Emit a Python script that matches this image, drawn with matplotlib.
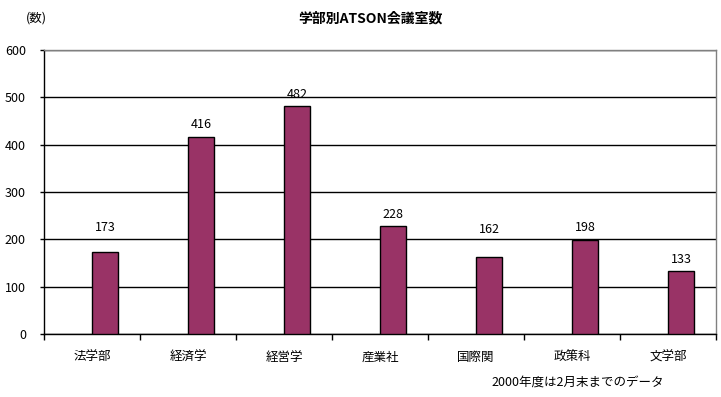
import matplotlib
matplotlib.use("Agg")
import matplotlib.pyplot as plt
import numpy as np

plt.rcParams['font.family'] = ['Noto Sans CJK JP', 'DejaVu Sans']

categories = ["法学部", "経済学", "経営学", "産業社", "国際関", "政策科", "文学部"]
values = [173, 416, 482, 228, 162, 198, 133]
# data-label positions (value units) as placed in the reference
label_pos = [224, 443, 507, 253, 220, 224, 157]
yticks = [0, 100, 200, 300, 400, 500, 600]

title = "学部別ATSON会議室数"
ylabel = "(数)"
note = "2000年度は2月末までのデータ"

fig = plt.figure(figsize=(7.21, 3.97), dpi=100)
ax = fig.add_axes([44/721, 1 - 334/397, (716-44)/721, (334-50)/397])

x = np.arange(len(categories))
ax.bar(x, values, width=0.27, align='edge', color='#993366',
       edgecolor='black', linewidth=1.0, zorder=3)
for xi, v, ly in zip(x, values, label_pos):
    ax.text(xi + 0.135, ly, str(v), ha='center', va='center',
            fontsize=9, color='black', zorder=4)

ax.set_xlim(-0.5, len(categories) - 0.5)
ax.set_ylim(0, 600)
ax.set_yticks(yticks)
ax.set_yticklabels([str(t) for t in yticks], fontsize=9)
ax.yaxis.grid(True, color='black', linewidth=1.0, zorder=0)
ax.set_axisbelow(True)

# category boundary ticks
ax.set_xticks(np.arange(-0.5, len(categories) + 0.5, 1.0))
ax.set_xticklabels([])
ax.tick_params(axis='x', direction='out', length=4, width=1, color='black')
ax.tick_params(axis='y', direction='out', length=3, width=1, pad=10)
for xi, c in zip(x, categories):
    ax.text(xi, -23/284, c, transform=ax.get_xaxis_transform(),
            ha='center', va='center', fontsize=9)

for s in ['top', 'right']:
    ax.spines[s].set_color('#808080')
    ax.spines[s].set_linewidth(1.0)
for s in ['left', 'bottom']:
    ax.spines[s].set_color('black')
    ax.spines[s].set_linewidth(1.0)

fig.text(370/721, 1 - 18/397, title, ha='center', va='center',
         fontsize=10, fontweight='bold')
fig.text(36/721, 1 - 18/397, ylabel, ha='center', va='center', fontsize=9)
fig.text(578/721, 1 - 382/397, note, ha='center', va='center', fontsize=9)

fig.savefig("out.png", dpi=100)
